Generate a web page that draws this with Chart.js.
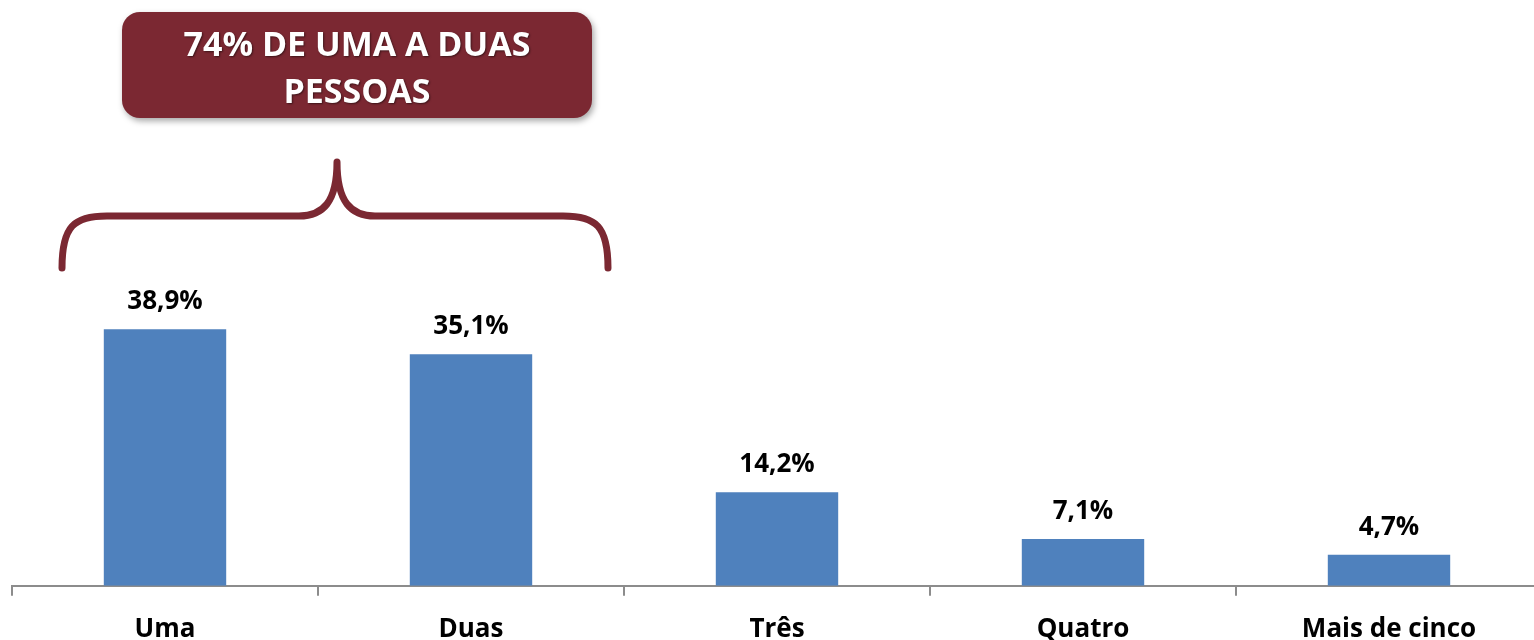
<!DOCTYPE html>
<html lang="pt">
<head>
  <meta charset="UTF-8">
  <title>Pessoas por domicílio</title>
  <style>
    html, body {
      margin: 0;
      padding: 0;
      background: #fff;
      overflow: hidden;
    }
    .chart-box {
      width: 1545px;
      height: 640px;
      overflow: hidden;
    }
  </style>
  <script src="https://cdn.jsdelivr.net/npm/chart.js"></script>
</head>
<body>
  <div class="chart-box">
    <canvas id="pessoasChart" width="1545" height="663"></canvas>
  </div>

  <script>
    const categorias = ['Uma', 'Duas', 'Três', 'Quatro', 'Mais de cinco'];
    const percentuais = [38.9, 35.1, 14.2, 7.1, 4.7];
    const destaqueLinhas = ['74% DE UMA A DUAS', 'PESSOAS'];

    const VINHO = '#7B2832';
    const FONTE = '"Open Sans", "DejaVu Sans", sans-serif';

    // rótulos de valor em cima das barras
    const rotulosPlugin = {
      id: 'rotulos',
      afterDatasetsDraw(chart) {
        const ctx = chart.ctx;
        const meta = chart.getDatasetMeta(0);
        ctx.save();
        ctx.font = 'bold 26px ' + FONTE;
        ctx.fillStyle = '#000';
        ctx.textAlign = 'center';
        ctx.textBaseline = 'alphabetic';
        meta.data.forEach((bar, i) => {
          const txt = percentuais[i].toFixed(1).replace('.', ',') + '%';
          ctx.fillText(txt, bar.x, bar.y - 20);
        });
        ctx.restore();
      }
    };

    // caixa de destaque + chave sobre as duas primeiras barras
    const destaquePlugin = {
      id: 'destaque',
      afterDraw(chart) {
        const ctx = chart.ctx;
        const x = chart.scales.x;
        const c0 = x.getPixelForValue(0);
        const c1 = x.getPixelForValue(1);
        const meio = (c0 + c1) / 2 + 19;
        const esq = c0 - 103;
        const dir = c1 + 137;

        // chave
        const yBase = 268, yHor = 216, yPico = 162;
        ctx.save();
        ctx.strokeStyle = VINHO;
        ctx.lineWidth = 7;
        ctx.lineCap = 'round';
        ctx.lineJoin = 'round';
        ctx.beginPath();
        ctx.moveTo(esq, yBase);
        ctx.bezierCurveTo(esq, yHor + 10, esq + 12, yHor, esq + 45, yHor);
        ctx.lineTo(meio - 38, yHor);
        ctx.bezierCurveTo(meio - 14, yHor, meio, yHor - 14, meio, yPico);
        ctx.moveTo(meio, yPico);
        ctx.bezierCurveTo(meio, yHor - 14, meio + 14, yHor, meio + 38, yHor);
        ctx.lineTo(dir - 45, yHor);
        ctx.bezierCurveTo(dir - 12, yHor, dir, yHor + 10, dir, yBase);
        ctx.stroke();
        ctx.restore();

        // caixa
        const bx = 122, by = 12, bw = 470, bh = 106, r = 18;
        ctx.save();
        ctx.shadowColor = 'rgba(0,0,0,0.35)';
        ctx.shadowBlur = 6;
        ctx.shadowOffsetX = 2;
        ctx.shadowOffsetY = 3;
        ctx.fillStyle = VINHO;
        ctx.beginPath();
        ctx.roundRect(bx, by, bw, bh, r);
        ctx.fill();
        ctx.restore();

        ctx.save();
        ctx.font = 'bold 34px ' + FONTE;
        ctx.fillStyle = '#fff';
        ctx.textAlign = 'center';
        ctx.textBaseline = 'alphabetic';
        ctx.shadowColor = 'rgba(0,0,0,0.5)';
        ctx.shadowBlur = 2;
        ctx.shadowOffsetX = 1;
        ctx.shadowOffsetY = 1;
        ctx.fillText(destaqueLinhas[0], bx + bw / 2, 56);
        ctx.fillText(destaqueLinhas[1], bx + bw / 2, 103);
        ctx.restore();
      }
    };

    new Chart(document.getElementById('pessoasChart'), {
      type: 'bar',
      data: {
        labels: categorias,
        datasets: [{
          data: percentuais,
          backgroundColor: '#4F81BD',
          borderWidth: 0,
          categoryPercentage: 1,
          barPercentage: 0.4
        }]
      },
      options: {
        responsive: false,
        devicePixelRatio: 1,
        animation: false,
        layout: {
          padding: { top: 190, left: 12, right: 3, bottom: 0 }
        },
        plugins: {
          legend: { display: false },
          tooltip: { enabled: false }
        },
        scales: {
          y: {
            display: false,
            min: 0,
            max: 60
          },
          x: {
            grid: {
              offset: true,
              drawOnChartArea: false,
              drawTicks: true,
              tickLength: 10,
              color: '#8C8C8C',
              lineWidth: 2
            },
            border: {
              color: '#8C8C8C',
              width: 2
            },
            ticks: {
              color: '#000',
              padding: 18,
              font: { family: FONTE, size: 26, weight: 'bold' }
            }
          }
        }
      },
      plugins: [rotulosPlugin, destaquePlugin]
    });
  </script>
</body>
</html>
